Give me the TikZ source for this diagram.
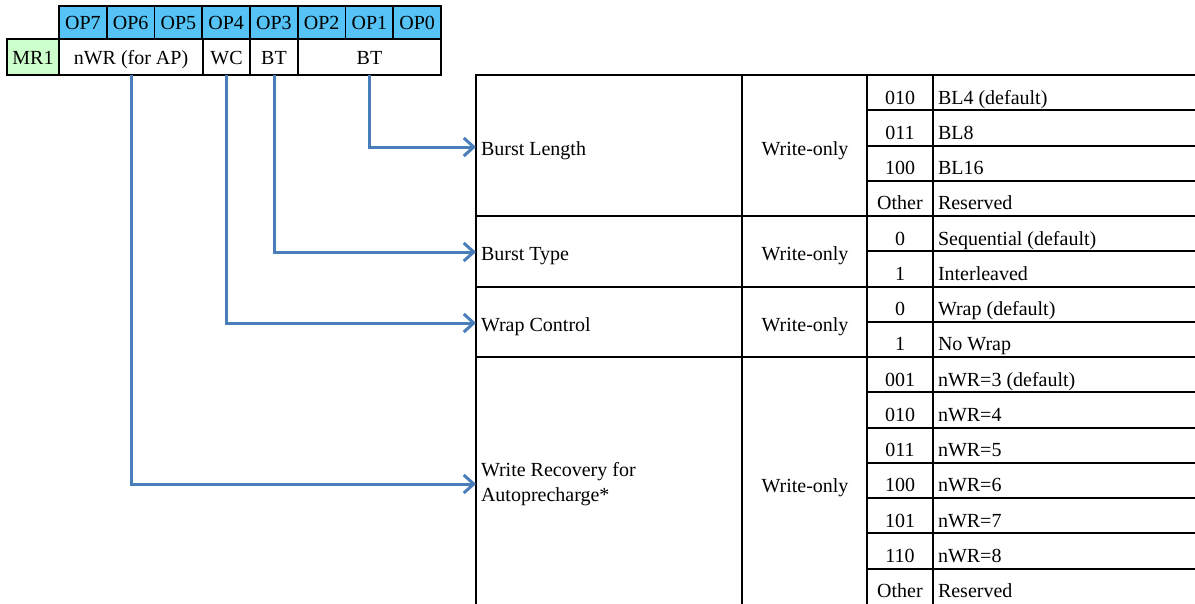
\documentclass[tikz,border=0pt]{standalone}
\usepackage{fontspec}
\setmainfont{LiberationSerif}[Extension=.ttf,UprightFont=*-Regular,BoldFont=*-Bold,ItalicFont=*-Italic,BoldItalicFont=*-BoldItalic]
\usepackage{xcolor}
\usepackage{tikz}
\usetikzlibrary{arrows.meta,positioning,calc}
\definecolor{opblue}{RGB}{85,195,245}
\definecolor{mrgreen}{RGB}{204,255,204}
\definecolor{linkblue}{RGB}{74,126,187}

\begin{document}
\begin{tikzpicture}[x=1pt,y=-1pt,
    font=\rmfamily\fontsize{20}{25.4}\selectfont,
    every node/.style={inner sep=0pt,outer sep=0pt},
    opcell/.style={draw,line width=1.6pt,fill=opblue,minimum width=47.75pt,minimum height=33pt,anchor=north west,text height=14pt,text depth=0pt},
    field/.style={draw,line width=1.6pt,fill=white,minimum height=36pt,text height=14pt,text depth=0pt},
    tabline/.style={line width=2pt},
    tcell/.style={text height=18pt,text depth=2pt},
    rowname/.style={anchor=west,inner xsep=5pt,align=left},
    link/.style={draw=linkblue,line width=3pt,-{Straight Barb[length=10pt,width=18pt]}}
]
    \useasboundingbox (0,0) rectangle (1195,603);

    % Register bits
    \foreach \b [count=\i from 0] in {7,6,5,4,3,2,1,0} {
        \node[opcell] (op\b) at (59+47.75*\i,6) {OP\b};
    }

    % Register fields
    \node[field,fill=mrgreen,minimum width=52pt,anchor=north west] (mr1) at (7,39) {MR1};
    \node[field,minimum width=144pt,right=0pt of mr1] (nwr) {nWR (for AP)};
    \node[field,minimum width=47pt,right=0pt of nwr] (wcf) {WC};
    \node[field,minimum width=48pt,right=0pt of wcf] (bts) {BT};
    \node[field,minimum width=143pt,right=0pt of bts] (btl) {BT};

    % Table grid
    \foreach \k in {0,4,6,8} {
        \draw[tabline] (476,75+35.25*\k) -- (1195,75+35.25*\k);
    }
    \foreach \k in {1,2,3,5,7,9,10,11,12,13,14} {
        \draw[tabline] (867,75+35.25*\k) -- (1195,75+35.25*\k);
    }
    \foreach \x in {476,742,867,933} {
        \draw[tabline] (\x,74) -- (\x,604);
    }

    % Function names
    \node[rowname,tcell] (blen) at (476,147) {Burst Length};
    \node[rowname,tcell] (btyp) at (476,252) {Burst Type};
    \node[rowname,tcell] (wctl) at (476,323) {Wrap Control};
    \node[rowname] (wrec) at (476,484) {Write Recovery for\\Autoprecharge*};

    % Access
    \foreach \n/\y in {blen/147,btyp/252,wctl/323,wrec/484} {
        \node[tcell] (wo\n) at (805,\y) {Write-only};
    }

    % Codes
    \foreach \code/\desc [count=\k from 0] in {010/BL4 (default),011/BL8,100/BL16,Other/Reserved,
        0/Sequential (default),1/Interleaved,0/Wrap (default),1/No Wrap,
        001/nWR=3 (default),010/nWR=4,011/nWR=5,100/nWR=6,101/nWR=7,110/nWR=8,Other/Reserved} {
        \node[tcell] (code\k) at (900,75+35.25*\k+21) {\code};
        \node[tcell,anchor=west,inner xsep=5pt] (desc\k) at (933,75+35.25*\k+21) {\desc};
    }

    % Links
    \draw[link] (btl.south) |- (blen.west);
    \draw[link] (bts.south) |- (btyp.west);
    \draw[link] (wcf.south) |- (wctl.west);
    \draw[link] (nwr.south) |- (wrec.west);

\end{tikzpicture}
\end{document}
